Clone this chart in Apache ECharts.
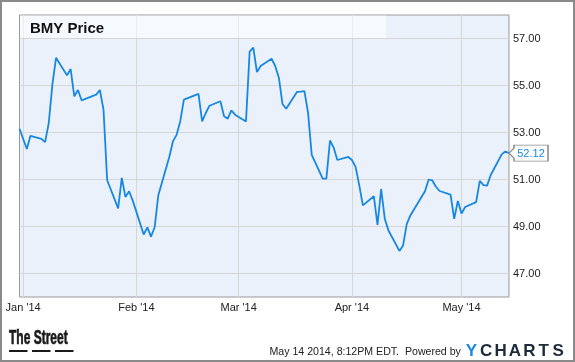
<!DOCTYPE html>
<html><head><meta charset="utf-8">
<script src="https://cdn.jsdelivr.net/npm/echarts@6/dist/echarts.min.js"></script>
<style>html,body{margin:0;padding:0;background:#fff}#c{width:575px;height:362px}</style>
</head><body><div id="c"></div>
<script>
// ---- data ----
const chartTitle = 'BMY Price';
const dates = [
'2013-12-31','2014-01-02','2014-01-03','2014-01-06','2014-01-07','2014-01-08','2014-01-09','2014-01-10','2014-01-13','2014-01-14','2014-01-15','2014-01-16','2014-01-17','2014-01-21','2014-01-22','2014-01-23','2014-01-24','2014-01-27','2014-01-28','2014-01-29','2014-01-30','2014-01-31',
'2014-02-03','2014-02-04','2014-02-05','2014-02-06','2014-02-07','2014-02-10','2014-02-11','2014-02-12','2014-02-13','2014-02-14','2014-02-18','2014-02-19','2014-02-20','2014-02-21','2014-02-24','2014-02-25','2014-02-26','2014-02-27','2014-02-28',
'2014-03-03','2014-03-04','2014-03-05','2014-03-06','2014-03-07','2014-03-10','2014-03-11','2014-03-12','2014-03-13','2014-03-14','2014-03-17','2014-03-18','2014-03-19','2014-03-20','2014-03-21','2014-03-24','2014-03-25','2014-03-26','2014-03-27','2014-03-28','2014-03-31',
'2014-04-01','2014-04-02','2014-04-03','2014-04-04','2014-04-07','2014-04-08','2014-04-09','2014-04-10','2014-04-11','2014-04-14','2014-04-15','2014-04-16','2014-04-17','2014-04-21','2014-04-22','2014-04-23','2014-04-24','2014-04-25','2014-04-28','2014-04-29','2014-04-30',
'2014-05-01','2014-05-02','2014-05-05','2014-05-06','2014-05-07','2014-05-08','2014-05-09','2014-05-12','2014-05-13','2014-05-14'
];
const prices = [
53.16,52.30,52.86,52.73,52.59,53.40,55.04,56.18,55.43,55.70,54.54,54.81,54.37,54.61,54.81,53.97,50.97,49.77,51.07,50.26,50.50,50.10,
48.66,48.96,48.57,48.97,50.33,51.96,52.62,52.90,53.47,54.40,54.64,53.47,53.83,54.14,54.33,53.69,53.59,53.94,53.76,
53.47,56.44,56.61,55.57,55.83,56.14,55.83,55.33,54.21,54.01,54.73,54.74,54.76,53.83,52.05,51.04,51.04,52.66,52.36,51.83,51.96,
51.83,51.54,50.76,49.90,50.29,49.07,50.59,49.33,48.83,47.96,48.19,49.10,49.47,50.50,51.00,50.96,50.69,50.51,50.36,49.33,50.09,
49.55,49.83,50.04,50.94,50.76,50.74,51.19,52.07,52.19,52.12
];
const yTickValues = [47, 49, 51, 53, 55, 57];
const xTickDates = ['2014-01-01','2014-02-01','2014-03-01','2014-04-01','2014-05-01'];
const monthNames = ['Jan','Feb','Mar','Apr','May','Jun','Jul','Aug','Sep','Oct','Nov','Dec'];
const footerText = 'May 14 2014, 8:12PM EDT.  Powered by';
const logoText = 'The Street';

// ---- chart ----
const chart = echarts.init(document.getElementById('c'), null, {renderer: 'canvas'});
const ts = s => { const p = s.split('-').map(Number); return new Date(p[0], p[1] - 1, p[2]).getTime(); };
const xTickValues = xTickDates.map(ts);
const seriesData = dates.map((d, i) => [ts(d), prices[i]]);
const lastIdx = dates.length - 1;
const FONT = 'Arial, "Liberation Sans", sans-serif';

const option = {
  animation: false,
  backgroundColor: '#ffffff',
  grid: {
    left: 19.5, right: 66, top: 15, bottom: 65,
    show: true, backgroundColor: '#eaf1fb', borderColor: '#9a9a9a', borderWidth: 1
  },
  xAxis: {
    type: 'value',
    min: ts(dates[0]), max: ts(dates[lastIdx]),
    axisLine: {show: false},
    axisTick: {show: false, customValues: xTickValues},
    axisLabel: {
      customValues: xTickValues,
      margin: 5, fontSize: 11, color: '#222', fontFamily: FONT,
      formatter: function (v) {
        const d = new Date(v);
        return monthNames[d.getMonth()] + " '" + String(d.getFullYear()).slice(2);
      }
    },
    splitLine: {show: true, lineStyle: {color: '#d6d6d6', width: 1}}
  },
  yAxis: {
    type: 'value', position: 'right',
    min: 46, max: 58,
    axisLine: {show: false},
    axisTick: {show: false, customValues: yTickValues},
    axisLabel: {
      customValues: yTickValues,
      margin: 4, fontSize: 11, color: '#222', fontFamily: FONT,
      formatter: v => Number(v).toFixed(2)
    },
    splitLine: {show: true, lineStyle: {color: '#d6d6d6', width: 1}}
  },
  series: [{
    type: 'line',
    data: seriesData,
    showSymbol: false,
    symbol: 'none',
    silent: true,
    lineStyle: {color: '#1787e0', width: 1.8},
    itemStyle: {color: '#1787e0'},
    z: 3,
    markPoint: {
      silent: true,
      data: [{coord: seriesData[lastIdx], value: prices[lastIdx]}],
      symbol: 'path://M0,8 L5,3 L5,0 L39,0 L39,16 L5,16 L5,13 Z',
      symbolSize: [39, 16],
      symbolOffset: [19.5, 0],
      itemStyle: {color: '#ffffff', borderColor: '#8a8a8a', borderWidth: 1},
      label: {
        show: true, position: 'inside', offset: [2.5, 0.5],
        color: '#1787e0', fontSize: 11, fontFamily: FONT,
        formatter: p => Number(p.value).toFixed(2)
      }
    }
  }],
  graphic: [
    {type: 'rect', z: 100, silent: true,
     shape: {x: 1, y: 1, width: 573, height: 360},
     style: {fill: 'none', stroke: '#8a8a8a', lineWidth: 2}},
    {type: 'rect', z: 1, silent: true,
     shape: {x: 20, y: 15.5, width: 366, height: 22.5},
     style: {fill: 'rgba(255,255,255,0.55)'}},
    {type: 'text', z: 5, silent: true, x: 30, y: 29,
     style: {text: chartTitle, font: 'bold 15px ' + FONT, fill: '#111', verticalAlign: 'middle', align: 'left'}},
    {type: 'text', z: 5, silent: true, x: 9, y: 338.5, scaleX: 0.6, scaleY: 1,
     style: {text: logoText, font: 'bold 20px ' + FONT, fill: '#1a1a1a', stroke: '#1a1a1a', lineWidth: 0.7, verticalAlign: 'middle', align: 'left'}},
    {type: 'rect', silent: true, shape: {x: 9, y: 350, width: 18.5, height: 2}, style: {fill: '#1a1a1a'}},
    {type: 'rect', silent: true, shape: {x: 32, y: 350, width: 18.5, height: 2}, style: {fill: '#1a1a1a'}},
    {type: 'rect', silent: true, shape: {x: 55, y: 350, width: 18.5, height: 2}, style: {fill: '#1a1a1a'}},
    {type: 'text', z: 5, silent: true, x: 269.5, y: 352,
     style: {text: footerText, font: '10.6px ' + FONT, fill: '#222', verticalAlign: 'middle', align: 'left'}},
    {type: 'text', z: 5, silent: true, x: 464, y: 351.5,
     style: {
       text: '{y|Y}{c|C}{c|H}{c|A}{c|R}{c|T}{c|S}',
       verticalAlign: 'middle', align: 'left',
       rich: {
         y: {fontSize: 17, fontWeight: 'bold', fontFamily: FONT, fill: '#1a8ae0', width: 15, align: 'center'},
         c: {fontSize: 17, fontWeight: 'bold', fontFamily: FONT, fill: '#1c2a3a', width: 14.4, align: 'center'}
       }
     }}
  ]
};
chart.setOption(option);
</script>
</body></html>
